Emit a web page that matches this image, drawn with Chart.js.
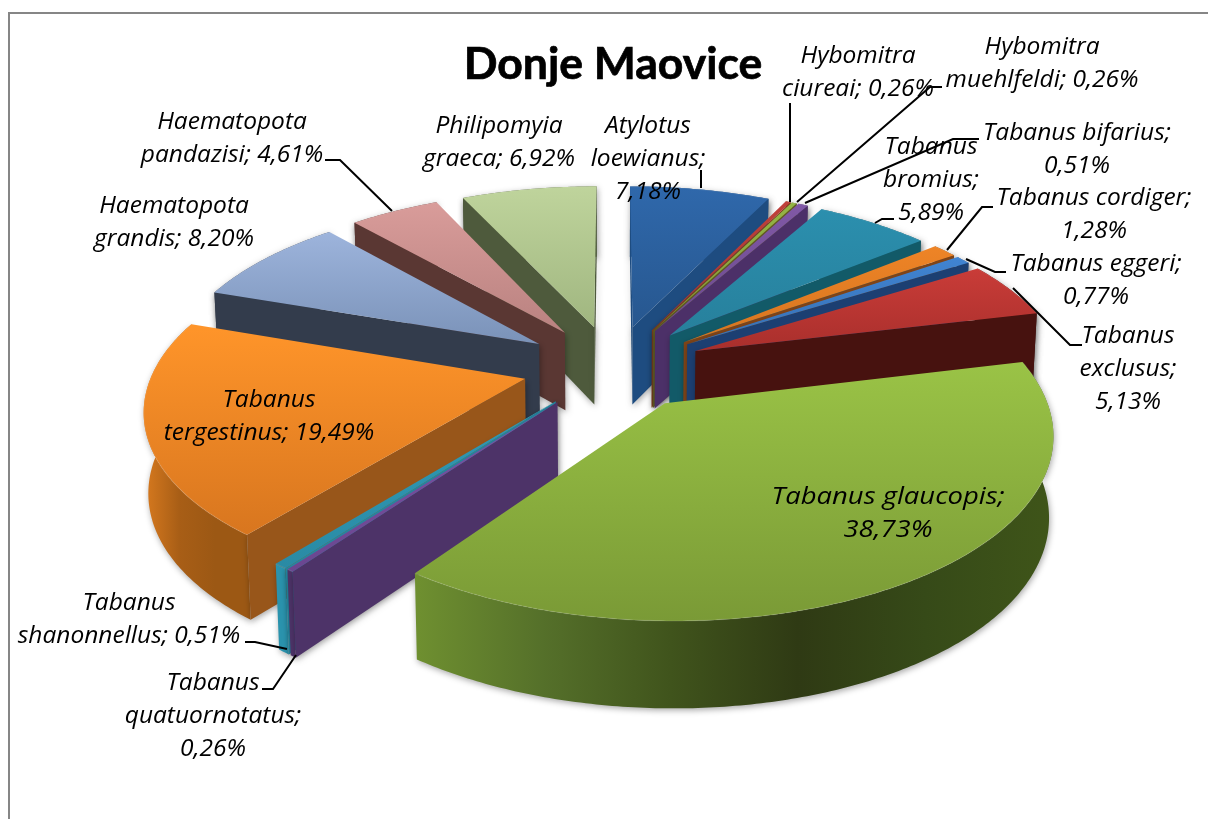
<!DOCTYPE html>
<html>
<head>
<meta charset="utf-8">
<title>Donje Maovice</title>
<style>
    html, body { margin: 0; padding: 0; background: #fff; }
    canvas { display: block; }
</style>
<script src="https://cdn.jsdelivr.net/npm/chart.js@4/dist/chart.umd.min.js"></script>
</head>
<body>
<canvas id="pieChart" width="1208" height="819"></canvas>
<script>
const chartTitle = 'Donje Maovice';

const categories = [
    'Atylotus loewianus', 'Hybomitra ciureai', 'Hybomitra muehlfeldi', 'Tabanus bifarius',
    'Tabanus bromius', 'Tabanus cordiger', 'Tabanus eggeri', 'Tabanus exclusus',
    'Tabanus glaucopis', 'Tabanus quatuornotatus', 'Tabanus shanonnellus', 'Tabanus tergestinus',
    'Haematopota grandis', 'Haematopota pandazisi', 'Philipomyia graeca'
];
const shares = [7.18, 0.26, 0.26, 0.51, 5.89, 1.28, 0.77, 5.13, 38.73, 0.26, 0.51, 19.49, 8.20, 4.61, 6.92];

// slice styles: top face light, top face dark, cut wall
const topLight = ['#2f68ab', '#c0403a', '#94b545', '#8058a6', '#2b8fae', '#ee8426', '#4084d2', '#c93c38',
    '#9ac346', '#7d52a3', '#2f9cb8', '#ff952a', '#9db4dc', '#d99c9a', '#bfd49c'];
const topDark = ['#27578f', '#a83430', '#7f9c3a', '#6b4a8c', '#27809c', '#d67520', '#3670b4', '#a92f2c',
    '#7a9a36', '#6a4690', '#2a8aa4', '#d8761f', '#7a92b8', '#b98280', '#a0b680'];
const wallColors = ['#1e4c80', '#7c3f1c', '#5f5a22', '#4c3068', '#125a68', '#7f4418', '#1c3f72', '#47120f',
    '#4d6722', '#4d3368', '#2389a2', '#98561a', '#333c4c', '#5a3733', '#4e5a3c'];
// outer rim gradient, left to right, only where the rim can really be seen
const rimStops = {
    8: ['#6f9030', '#55702a', '#40541c', '#2f3a14', '#364a18', '#3f5519'],
    10: ['#2a93ad', '#2a93ad'],
    9: ['#4d3368', '#4d3368'],
    11: ['#d87a1f', '#a85e16', '#9c5814', '#9c5814']
};

// label placement: centre x, first line y, word index where each new line starts
const labelSpots = [
    { x: 648, y: 126, breaks: [1, 2] }, { x: 858, y: 56, breaks: [1] }, { x: 1042, y: 47, breaks: [1] },
    { x: 1077, y: 133, breaks: [2] }, { x: 931, y: 147, breaks: [1, 2] }, { x: 1094, y: 198, breaks: [2] },
    { x: 1096, y: 264, breaks: [2] }, { x: 1128, y: 336, breaks: [1, 2] }, { x: 888, y: 497, breaks: [2], stretch: 1.12 },
    { x: 213, y: 683, breaks: [1, 2] }, { x: 129, y: 603, breaks: [1] }, { x: 269, y: 400, breaks: [1] },
    { x: 174, y: 206, breaks: [1] }, { x: 232, y: 122, breaks: [1] }, { x: 499, y: 126, breaks: [1] }
];
const leaderLines = [
    [[701, 170], [701, 188]],
    [[790, 103], [790, 202]],
    [[942, 87], [930, 87], [797, 202]],
    [[979, 139], [953, 139], [805, 203]],
    [[894, 219], [882, 219], [875, 223]],
    [[993, 207], [982, 207], [947, 250]],
    [[1006, 272], [995, 272], [966, 259]],
    [[1013, 288], [1070, 345], [1082, 345]],
    [[262, 689], [273, 689], [296, 655]],
    [[245, 642], [255, 642], [287, 649]],
    [[325, 160], [340, 160], [392, 211]]
];

// camera of the 3D pie
const view = { x0: 613, y0: 367, fx: 371, fy: 173, persp: 0.15, explode: 0.244, base: 0.99 };

function topPoint(u, v) {
    const w = 1 - view.persp * v;
    return [view.x0 + view.fx * u / w, view.y0 + view.fy * v / w];
}

function basePoint(u, v) {
    const p = topPoint(u, v);
    return [view.x0 + (p[0] - view.x0) * view.base, p[1] + 79 + 7 * v];
}

function tracePath(ctx, pts) {
    ctx.beginPath();
    pts.forEach((p, i) => i ? ctx.lineTo(p[0], p[1]) : ctx.moveTo(p[0], p[1]));
    ctx.closePath();
}

function drawSlice(ctx, slice) {
    const { a0, a1, mid, index } = slice;
    const ex = Math.sin(mid) * view.explode;
    const ey = -Math.cos(mid) * view.explode;

    const rim = [];
    const steps = Math.max(2, Math.ceil((a1 - a0) / 0.012));
    for (let i = 0; i <= steps; i++) {
        const a = a0 + (a1 - a0) * i / steps;
        rim.push([ex + Math.sin(a), ey - Math.cos(a)]);
    }

    const topRim = rim.map(p => topPoint(p[0], p[1]));
    const baseRim = rim.map(p => basePoint(p[0], p[1]));
    const xs = topRim.concat(baseRim).map(p => p[0]);
    const ys = topRim.map(p => p[1]).concat(topPoint(ex, ey)[1]);
    const minX = Math.min(...xs), maxX = Math.max(...xs);

    ctx.shadowColor = 'rgba(0,0,0,0.35)';
    ctx.shadowBlur = 6;
    ctx.shadowOffsetX = 1;
    ctx.shadowOffsetY = 2;

    // outer rim
    tracePath(ctx, topRim.concat(baseRim.slice().reverse()));
    const stops = rimStops[index];
    if (stops) {
        const g = ctx.createLinearGradient(minX, 0, maxX, 0);
        stops.forEach((c, i) => g.addColorStop(i / (stops.length - 1), c));
        ctx.fillStyle = g;
    } else {
        ctx.fillStyle = wallColors[index];
    }
    ctx.fill();

    // cut walls that look at the camera
    [[a0, -Math.cos(a0), -Math.sin(a0), rim[0]], [a1, Math.cos(a1), Math.sin(a1), rim[rim.length - 1]]].forEach(w => {
        const facing = w[1] * (0 - ex) + w[2] * (1 / view.persp - ey);
        if (facing <= 0) return;
        tracePath(ctx, [topPoint(ex, ey), topPoint(w[3][0], w[3][1]), basePoint(w[3][0], w[3][1]), basePoint(ex, ey)]);
        ctx.fillStyle = wallColors[index];
        ctx.fill();
    });

    ctx.shadowColor = 'transparent';
    ctx.shadowBlur = 0;
    ctx.shadowOffsetX = 0;
    ctx.shadowOffsetY = 0;

    // top face
    tracePath(ctx, [topPoint(ex, ey)].concat(topRim));
    const g = ctx.createLinearGradient(0, Math.min(...ys), 0, Math.max(...ys));
    g.addColorStop(0, topLight[index]);
    g.addColorStop(1, topDark[index]);
    ctx.fillStyle = g;
    ctx.fill();

    // little bevel on the rim edge
    ctx.beginPath();
    topRim.forEach((p, i) => i ? ctx.lineTo(p[0], p[1]) : ctx.moveTo(p[0], p[1]));
    ctx.strokeStyle = 'rgba(255,255,255,0.08)';
    ctx.lineWidth = 1.5;
    ctx.stroke();
}

function labelLines(index) {
    const pct = shares[index].toFixed(2).replace('.', ',') + '%';
    const words = (categories[index] + '; ' + pct).split(' ');
    const cuts = [0].concat(labelSpots[index].breaks, words.length);
    const out = [];
    for (let i = 0; i < cuts.length - 1; i++) out.push(words.slice(cuts[i], cuts[i + 1]).join(' '));
    return out;
}

const pie3d = {
    id: 'pie3d',
    beforeDraw(chart) {
        const ctx = chart.ctx;
        ctx.save();
        ctx.fillStyle = '#fff';
        ctx.fillRect(0, 0, chart.width, chart.height);
        ctx.strokeStyle = '#868686';
        ctx.lineWidth = 2;
        ctx.beginPath();
        ctx.moveTo(9, chart.height);
        ctx.lineTo(9, 13);
        ctx.lineTo(chart.width, 13);
        ctx.stroke();
        ctx.restore();
    },
    // arcs come from the library, they only get projected here
    beforeDatasetDraw(chart) {
        const ctx = chart.ctx;
        const slices = chart.getDatasetMeta(0).data.map((arc, index) => {
            const a0 = arc.startAngle + Math.PI / 2;
            const a1 = arc.endAngle + Math.PI / 2;
            return { a0, a1, mid: (a0 + a1) / 2, index };
        });
        slices.sort((p, q) => -Math.cos(p.mid) - -Math.cos(q.mid));
        ctx.save();
        slices.forEach(s => drawSlice(ctx, s));
        ctx.restore();
        return false;
    },
    afterDraw(chart) {
        const ctx = chart.ctx;
        ctx.save();
        ctx.textAlign = 'center';
        ctx.textBaseline = 'middle';

        ctx.fillStyle = '#000';
        ctx.strokeStyle = '#000';
        ctx.font = 'bold 44.5px Lato';
        ctx.lineWidth = 0.7;
        ctx.fillText(chartTitle, 613, 65);
        ctx.strokeText(chartTitle, 613, 65);

        ctx.lineWidth = 2;
        leaderLines.forEach(line => {
            ctx.beginPath();
            line.forEach((p, i) => i ? ctx.lineTo(p[0], p[1]) : ctx.moveTo(p[0], p[1]));
            ctx.stroke();
        });

        ctx.font = 'italic 24.5px "Open Sans"';
        labelSpots.forEach((spot, index) => {
            labelLines(index).forEach((text, i) => {
                ctx.save();
                ctx.translate(spot.x, spot.y + i * 33);
                ctx.scale(spot.stretch || 1, 1);
                ctx.fillText(text, 0, 0);
                ctx.restore();
            });
        });
        ctx.restore();
    }
};

new Chart(document.getElementById('pieChart').getContext('2d'), {
    type: 'pie',
    data: {
        labels: categories,
        datasets: [{ data: shares, backgroundColor: topLight, borderWidth: 0 }]
    },
    options: {
        responsive: false,
        animation: false,
        events: [],
        plugins: {
            legend: { display: false },
            tooltip: { enabled: false }
        }
    },
    plugins: [pie3d]
});
</script>
</body>
</html>
